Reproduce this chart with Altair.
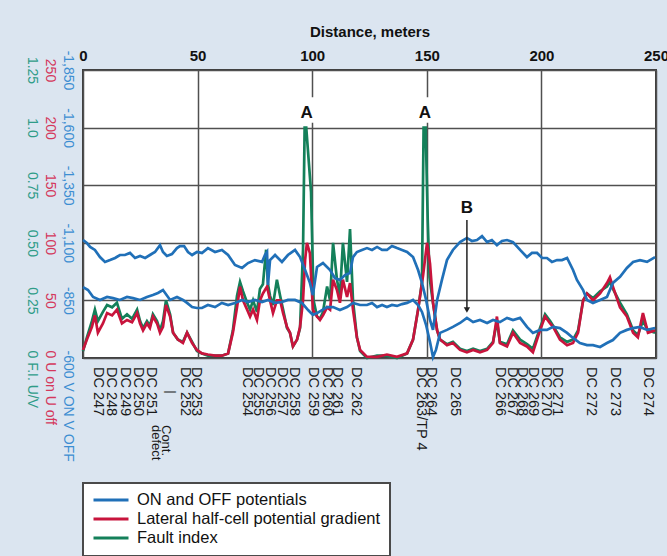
import altair as alt
import pandas as pd

# ---------------- data ----------------
dist_on = [0, 1.7, 3.1, 5.2, 7.4, 9.6, 11.8, 14.0, 16.1, 18.3, 20.5, 22.7, 24.9, 27.1, 29.2, 31.4,
           33.6, 34.9, 36.6, 38.8, 41.0, 42.3, 44.1, 45.8, 47.6, 49.7, 51.9, 54.5, 57.6, 60.6, 63.3,
           66.3, 69.4, 72.0, 75.0, 78.1, 79.4, 80.3, 80.7, 81.6, 83.8, 86.8, 89.4, 92.5, 94.7, 96.9,
           99.0, 100.3, 102.1, 104.7, 107.8, 109.9, 112.1, 114.3, 116.5, 117.8, 119.5, 121.7, 123.9,
           126.1, 128.3, 130.5, 132.6, 134.8, 137.0, 139.2, 141.4, 144.0, 146.2, 147.9, 149.7, 151.4,
           152.7, 154.5, 156.6, 158.8, 161.4, 164.5, 167.5, 169.7, 171.9, 174.1, 176.3, 178.4, 180.6,
           182.8, 185.0, 187.6, 190.7, 193.7, 195.9, 198.1, 200.3, 202.4, 204.6, 206.8, 209.0, 211.2,
           213.8, 215.5, 218.2, 219.9, 222.5, 225.6, 228.6, 231.2, 234.3, 237.3, 240.0, 243.0, 246.1,
           249.6]
pot_on = [-1112, -1099, -1082, -1069, -1038, -1017, -1025, -1034, -1047, -1047, -1056, -1034, -1043,
          -1034, -1047, -1060, -1090, -1060, -1043, -1051, -1077, -1086, -1086, -1060, -1047, -1060,
          -1056, -1077, -1060, -1069, -1047, -1004, -991, -1012, -1025, -1017, -1047, -1060, -917,
          -1025, -1047, -1017, -1047, -1069, -1038, -982, -926, -873, -995, -1012, -982, -947, -939,
          -960, -969, -1038, -1060, -1069, -1077, -1069, -1082, -1069, -1069, -1086, -1077, -1069,
          -1060, -1038, -982, -926, -852, -765, -722, -852, -939, -1025, -1069, -1103, -1121, -1108,
          -1112, -1129, -1103, -1112, -1090, -1108, -1112, -1103, -1069, -1038, -1056, -1056, -1034,
          -1034, -1017, -1025, -1025, -1034, -982, -939, -895, -852, -839, -852, -865, -926, -952,
          -991, -1017, -1025, -1017, -1038]

dist_off = [0, 2.2, 4.4, 7.4, 10.5, 13.1, 16.1, 19.2, 21.8, 24.9, 27.9, 30.5, 32.7, 34.9, 38.0, 41.0,
            43.6, 45.4, 47.6, 49.7, 51.9, 54.5, 57.6, 60.6, 63.3, 66.3, 69.4, 72.0, 75.0, 78.1, 80.7,
            83.8, 86.8, 89.4, 92.5, 95.5, 98.2, 100.3, 102.1, 104.3, 106.5, 109.1, 112.1, 115.2, 117.8,
            120.9, 123.9, 126.1, 128.3, 130.5, 132.6, 134.8, 137.0, 139.2, 141.4, 144.0, 146.2, 147.9,
            149.7, 151.4, 152.7, 154.0, 155.8, 158.8, 161.4, 164.5, 167.5, 170.2, 173.2, 176.3, 178.9,
            181.9, 185.0, 187.6, 190.7, 193.7, 196.3, 199.4, 202.4, 205.1, 208.1, 211.2, 213.8, 216.8,
            219.9, 222.5, 225.6, 228.6, 231.2, 234.3, 237.3, 240.0, 243.0, 246.1, 249.6]
pot_off = [-908, -895, -865, -852, -865, -860, -852, -865, -860, -852, -865, -873, -882, -895, -852,
           -865, -852, -839, -821, -817, -817, -830, -821, -839, -830, -839, -852, -843, -852, -843,
           -852, -839, -843, -852, -852, -839, -808, -787, -795, -808, -821, -821, -808, -821, -839,
           -830, -830, -839, -821, -830, -821, -830, -826, -834, -839, -852, -830, -800, -743, -669,
           -604, -635, -709, -722, -735, -752, -774, -756, -765, -752, -765, -756, -774, -765, -774,
           -735, -709, -722, -722, -735, -730, -709, -687, -665, -656, -656, -648, -665, -678, -709,
           -722, -730, -735, -722, -730]

dist_grad = [0, 1.7, 3.9, 5.2, 6.5, 8.7, 10.5, 12.7, 14.8, 17.0, 19.2, 21.4, 23.6, 24.9, 26.2, 27.9,
             29.2, 30.5, 32.3, 33.6, 34.9, 36.2, 38.0, 39.3, 41.4, 43.6, 45.4, 47.6, 49.7, 51.9, 54.5,
             57.6, 60.6, 63.3, 65.4, 67.2, 68.5, 69.8, 71.6, 72.9, 74.2, 75.9, 77.2, 78.5, 80.3, 81.6,
             82.9, 84.6, 86.0, 87.3, 89.0, 90.3, 91.6, 93.4, 94.7, 96.0, 96.9, 97.7, 99.0, 100.3,
             102.1, 103.4, 104.7, 106.5, 107.8, 109.1, 110.8, 112.1, 113.4, 115.2, 116.5, 117.8,
             119.5, 120.9, 123.9, 128.3, 132.6, 137.0, 141.4, 144.0, 146.2, 148.4, 150.1, 151.4,
             152.7, 154.5, 155.8, 158.8, 161.4, 164.5, 167.5, 170.2, 173.2, 176.3, 178.9, 180.6,
             181.9, 185.0, 187.6, 190.7, 193.7, 196.3, 199.4, 201.6, 203.8, 205.1, 208.1, 211.2,
             213.8, 216.0, 218.2, 219.9, 222.5, 225.6, 228.6, 229.9, 231.2, 234.3, 237.3, 240.0,
             242.1, 244.3, 246.5, 249.6]
grad = [7, 16, 27, 37, 22, 30, 39, 37, 42, 30, 33, 31, 39, 30, 24, 30, 26, 36, 30, 22, 27, 46, 36, 22,
        16, 13, 22, 13, 7, 4, 3, 2, 2, 4, 22, 44, 62, 50, 42, 36, 42, 33, 50, 56, 62, 50, 39, 50, 50,
        39, 27, 22, 10, 16, 27, 50, 85, 100, 91, 42, 36, 33, 37, 44, 42, 68, 59, 48, 68, 53, 65, 42,
        18, 7, 1, 1, 3, 1, 4, 16, 42, 72, 100, 82, 48, 24, 16, 11, 13, 7, 5, 7, 5, 7, 13, 36, 13, 10,
        22, 13, 10, 5, 24, 36, 30, 27, 16, 11, 13, 22, 50, 56, 50, 56, 65, 70, 62, 44, 36, 22, 18, 39,
        22, 24]

dist_fi = [0, 1.7, 3.9, 5.2, 6.5, 8.7, 10.5, 12.7, 14.8, 17.0, 19.2, 21.4, 23.6, 24.9, 26.2, 27.9,
           29.2, 30.5, 32.3, 33.6, 34.9, 36.2, 38.0, 39.3, 41.4, 43.6, 45.4, 47.6, 49.7, 51.9, 54.5,
           57.6, 60.6, 63.3, 65.4, 67.2, 68.5, 69.8, 71.6, 72.9, 74.2, 75.9, 77.2, 78.5, 79.9, 80.7,
           81.6, 82.9, 84.6, 86.0, 87.3, 89.0, 90.3, 91.6, 93.4, 94.7, 96.0, 96.7, 97.4, 99.5, 100.6,
           102.1, 103.4, 104.7, 106.5, 107.8, 109.1, 110.8, 112.1, 113.4, 115.2, 116.5, 117.8, 119.5,
           120.9, 123.9, 128.3, 132.6, 137.0, 141.4, 144.0, 146.2, 147.9, 148.6, 149.5, 150.4, 151.2,
           152.7, 154.5, 155.8, 158.8, 161.4, 164.5, 167.5, 170.2, 173.2, 176.3, 178.9, 180.6, 181.9,
           185.0, 187.6, 190.7, 193.7, 196.3, 199.4, 201.6, 203.8, 205.1, 208.1, 211.2, 213.8, 216.0,
           218.2, 219.9, 222.5, 225.6, 228.6, 229.9, 231.2, 234.3, 237.3, 240.0, 242.1, 244.3, 246.5,
           249.6]
fi = [0.03, 0.09, 0.16, 0.21, 0.16, 0.20, 0.23, 0.22, 0.24, 0.17, 0.19, 0.17, 0.21, 0.16, 0.13, 0.16,
      0.14, 0.19, 0.16, 0.12, 0.16, 0.25, 0.19, 0.11, 0.08, 0.07, 0.11, 0.07, 0.03, 0.02, 0.01, 0.01,
      0.01, 0.02, 0.12, 0.27, 0.33, 0.29, 0.24, 0.21, 0.25, 0.20, 0.30, 0.32, 0.47, 0.32, 0.27, 0.23,
      0.34, 0.27, 0.21, 0.13, 0.11, 0.05, 0.08, 0.13, 0.47, 1.00, 1.00, 0.72, 0.25, 0.18, 0.17, 0.20,
      0.31, 0.25, 0.50, 0.34, 0.27, 0.50, 0.33, 0.56, 0.25, 0.09, 0.03, 0.00, 0.01, 0.01, 0.00, 0.02,
      0.08, 0.21, 0.33, 1.00, 1.00, 0.60, 0.35, 0.24, 0.12, 0.08, 0.06, 0.07, 0.04, 0.03, 0.04, 0.03,
      0.04, 0.07, 0.16, 0.07, 0.06, 0.12, 0.08, 0.06, 0.04, 0.13, 0.19, 0.16, 0.14, 0.09, 0.07, 0.08,
      0.12, 0.25, 0.28, 0.26, 0.29, 0.31, 0.33, 0.30, 0.24, 0.19, 0.12, 0.10, 0.16, 0.12, 0.11]

dc_names = ["DC 247", "DC 248", "DC 249", "DC 250", "DC 251", "DC 252", "DC 253", "DC 254",
            "DC 255", "DC 256", "DC 257", "DC 258", "DC 259", "DC 260", "DC 261", "DC 262",
            "DC 263/TP 4", "DC 264", "DC 265", "DC 266", "DC 267", "DC 268", "DC 269", "DC 270",
            "DC 271", "DC 272", "DC 273", "DC 274"]
dc_dist = [6.6, 12.4, 18.2, 24.0, 29.7, 44.5, 49.3, 71.6, 76.4, 81.6, 86.8, 92.1, 100.3, 106.5,
           110.8, 119.1, 147.5, 151.8, 162.3, 181.9, 187.2, 191.5, 196.3, 202.0, 206.8, 221.6,
           232.1, 246.5]

series_names = ["ON and OFF potentials", "Lateral half-cell potential gradient", "Fault index"]
x_ticks = [0, 50, 100, 150, 200, 250]
pot_ticks = [-600, -850, -1100, -1350, -1600, -1850]
grad_ticks = [0, 50, 100, 150, 200, 250]
fi_ticks = [0, 0.25, 0.5, 0.75, 1.0, 1.25]

peak_text = ["A", "A"]
peak_text_dist = [97.6, 149.2]
peak_dist = [100, 150]
b_text = ["B"]
b_dist = [167.5]
defect_text = ["Cont.\ndefect"]
defect_dist = [36.0]
defect_mark = ["|"]
defect_mark_dist = [38.5]

# ---------------- styling ----------------
FONT = "Liberation Sans"
BLUE = "#2070b8"
RED = "#c8143c"
GREEN = "#14805a"
GRID = "#505050"
BG = "#dbe5f0"
LW = 2.7

df_pot = pd.concat([
    pd.DataFrame({"m": dist_on, "pot": pot_on, "kind": "ON"}),
    pd.DataFrame({"m": dist_off, "pot": pot_off, "kind": "OFF"}),
], ignore_index=True)
df_pot["series"] = series_names[0]
df_grad = pd.DataFrame({"m": dist_grad, "grad": grad, "series": series_names[1]})
df_fi = pd.DataFrame({"m": dist_fi, "fi": fi, "series": series_names[2]})

x_enc = alt.X(
    "m:Q",
    scale=alt.Scale(domain=[0, 250], nice=False, zero=False),
    axis=alt.Axis(
        orient="top", values=x_ticks, grid=True, gridColor=GRID, gridWidth=1.5,
        ticks=False, tickSize=0, domain=False,
        labelFont=FONT, labelFontSize=15, labelFontWeight="bold", labelColor="#111111",
        labelPadding=10, labelFlush=False, labelBaseline="alphabetic", labelOverlap=False,
        title="Distance, meters", titleFont=FONT, titleFontSize=15, titleFontWeight="bold",
        titleColor="#111111", titleX=286.5, titleY=-34, titleAlign="center",
        titleBaseline="alphabetic",
    ),
)

color_enc = alt.Color(
    "series:N",
    scale=alt.Scale(domain=series_names, range=[BLUE, RED, GREEN]),
    legend=alt.Legend(title=None),
)


def y_axis(values, bottom, pad, color, expr, grid=False):
    return alt.Axis(
        orient="left", values=values, grid=grid, gridColor=GRID, gridWidth=1.5,
        ticks=False, tickSize=0, domain=False, labelAngle=90,
        labelAlign={"condition": {"test": f"datum.value == {bottom}", "value": "left"},
                    "value": "center"},
        labelOffset={"condition": {"test": f"datum.value == {bottom}", "value": -8},
                     "value": 0},
        labelBaseline="middle", labelPadding=pad, labelColor=color, labelFont=FONT,
        labelFontSize=14, labelExpr=expr, labelOverlap=False, title=None,
    )


green_layer = alt.Chart(df_fi).mark_line(strokeWidth=LW).encode(
    x=x_enc,
    y=alt.Y("fi:Q", scale=alt.Scale(domain=[0, 1.25], nice=False, zero=False),
            axis=y_axis(fi_ticks, 0, 52, "#2f9c88",
                        "datum.value == 0 ? '0 F.I. U/V' : datum.value == 1 ? '1.0' : "
                        "format(datum.value, '.2f')")),
    color=color_enc,
)

red_layer = alt.Chart(df_grad).mark_line(strokeWidth=LW).encode(
    x=x_enc,
    y=alt.Y("grad:Q", scale=alt.Scale(domain=[0, 250], nice=False, zero=False),
            axis=y_axis(grad_ticks, 0, 34, "#d4385c",
                        "datum.value == 0 ? '0 U on U off' : format(datum.value, 'd')")),
    color=color_enc,
)

blue_layer = alt.Chart(df_pot).mark_line(strokeWidth=LW).encode(
    x=x_enc,
    y=alt.Y("pot:Q", scale=alt.Scale(domain=[-600, -1850], nice=False, zero=False),
            axis=y_axis(pot_ticks, -600, 16, "#3d8ed2",
                        "datum.value == -600 ? '-600 V ON V OFF' : "
                        "'-' + format(abs(datum.value), ',')", grid=True)),
    color=color_enc,
    detail="kind:N",
)

gap_layer = alt.Chart(pd.DataFrame({"m": peak_dist})).mark_square(
    size=650, color="white", filled=True, opacity=1, strokeWidth=0
).encode(x=x_enc, y=alt.value(40))

a_layer = alt.Chart(pd.DataFrame({"m": peak_text_dist, "t": peak_text})).mark_text(
    font=FONT, fontSize=17, fontWeight="bold", color="#111111", align="center", baseline="middle"
).encode(x=x_enc, y=alt.value(43), text="t:N")

b_layer = alt.Chart(pd.DataFrame({"m": b_dist, "t": b_text})).mark_text(
    font=FONT, fontSize=17, fontWeight="bold", color="#111111", align="center", baseline="middle"
).encode(x=x_enc, y=alt.value(138), text="t:N")

arrow_line = alt.Chart(pd.DataFrame({"m": b_dist})).mark_rule(
    color="#222222", strokeWidth=1.5
).encode(x=x_enc, y=alt.value(150), y2=alt.value(238))

arrow_head = alt.Chart(pd.DataFrame({"m": b_dist})).mark_point(
    shape="triangle-down", filled=True, size=40, color="#222222", opacity=1
).encode(x=x_enc, y=alt.value(240))

dc_layer = alt.Chart(pd.DataFrame({"m": dc_dist, "name": dc_names})).mark_text(
    angle=90, align="left", baseline="middle", font=FONT, fontSize=14.5, color="#1a1a1a"
).encode(x=x_enc, y=alt.value(297), text="name:N")

defect_layer = alt.Chart(pd.DataFrame({"m": defect_dist, "t": defect_text})).mark_text(
    angle=90, align="left", baseline="middle", font=FONT, fontSize=13, lineHeight=10,
    lineBreak="\n", color="#1a1a1a"
).encode(x=x_enc, y=alt.value(355), text="t:N")

defect_mark_layer = alt.Chart(pd.DataFrame({"m": defect_mark_dist, "t": defect_mark})).mark_text(
    angle=90, align="center", baseline="middle", font=FONT, fontSize=13, color="#1a1a1a"
).encode(x=x_enc, y=alt.value(322), text="t:N")

chart = alt.layer(
    gap_layer, green_layer, red_layer, blue_layer, arrow_line, arrow_head,
    a_layer, b_layer, dc_layer, defect_layer, defect_mark_layer,
).resolve_scale(
    y="independent"
).properties(
    width=573, height=288,
    autosize=alt.AutoSizeParams(type="none"),
    padding={"left": 83, "top": 70, "right": 11, "bottom": 198},
).configure(
    background=BG, font=FONT
).configure_view(
    stroke="#3c3c3c", strokeWidth=2, fill="white"
).configure_legend(
    orient="none", legendX=0, legendY=413, padding=9, strokeColor="#4a4a4a", strokeWidth=2,
    fillColor="white", symbolType="stroke", symbolSize=1225, symbolStrokeWidth=3,
    clipHeight=16, labelFont=FONT, labelFontSize=16.5, labelColor="#111111", labelLimit=400,
    rowPadding=2, labelOffset=7,
)

chart.save("out.html", embed_options={"renderer": "svg", "actions": False})
